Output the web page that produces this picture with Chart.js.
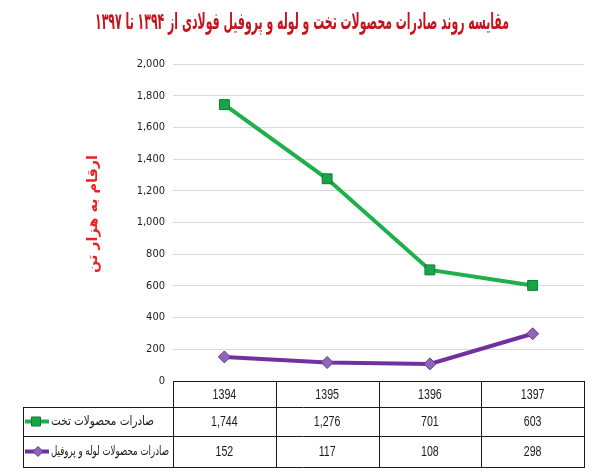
<!DOCTYPE html>
<html><head><meta charset="utf-8">
<script src="https://cdn.jsdelivr.net/npm/chart.js@4.4.0/dist/chart.umd.min.js"></script>
<style>html,body{margin:0;padding:0;background:#fff}#w{width:602px;height:475px}</style>
</head><body><div id="w"><canvas id="c"></canvas></div>
<script>
const titleText = 'مقایسه روند صادرات محصولات تخت و لوله و پروفیل فولادی از ۱۳۹۴ تا ۱۳۹۷';
const yTitle = 'ارقام به هزار تن';
const categories = ['1394', '1395', '1396', '1397'];
const seriesNames = ['صادرات محصولات تخت', 'صادرات محصولات لوله و پروفیل'];
const flatValues = [1744, 1276, 701, 603];
const pipeValues = [152, 117, 108, 298];
const yTicks = [0, 200, 400, 600, 800, 1000, 1200, 1400, 1600, 1800, 2000];

const NARROW = '"DejaVu Sans Condensed", "Liberation Sans Narrow", "Liberation Sans", sans-serif';
const NUM = '"Liberation Sans", Arial, sans-serif';
const AR = '"DejaVu Sans", sans-serif';

// draw text compressed horizontally to a target width
function drawFit(ctx, text, font, cx, cy, targetW, align) {
  ctx.font = font;
  const w = ctx.measureText(text).width;
  const sx = targetW ? targetW / w : 1;
  ctx.save();
  ctx.translate(cx, cy);
  ctx.scale(sx, 1);
  ctx.textAlign = align || 'center';
  ctx.fillText(text, 0, 0);
  ctx.restore();
}

const tablePlugin = {
  id: 'tablePlugin',
  afterDraw(chart) {
    const ctx = chart.ctx;
    const x = chart.scales.x;
    const ca = chart.chartArea;
    const L = ca.left, R = ca.right, T0 = ca.bottom;
    const r1 = 407, r2 = 436, r3 = 467;
    const legL = 23;
    ctx.save();
    ctx.textBaseline = 'middle';
    // title
    ctx.fillStyle = '#c3161c';
    ctx.direction = 'rtl';
    drawFit(ctx, titleText, 'bold 23px ' + AR, 302, 23, 414, 'center');
    // y title
    ctx.save();
    ctx.translate(93, 214);
    ctx.rotate(-Math.PI / 2);
    ctx.fillStyle = '#f01e1e';
    drawFit(ctx, yTitle, 'bold 14px ' + AR, 0, 0, 118, 'center');
    ctx.restore();
    // table lines
    ctx.strokeStyle = '#1a1a1a'; ctx.lineWidth = 1;
    ctx.beginPath();
    ctx.moveTo(L, T0 + 0.5); ctx.lineTo(R, T0 + 0.5);
    [r1, r2, r3].forEach(v => { ctx.moveTo(legL, v + 0.5); ctx.lineTo(R, v + 0.5); });
    ctx.moveTo(legL + 0.5, r1); ctx.lineTo(legL + 0.5, r3);
    const n = categories.length;
    const step = (R - L) / n;
    for (let i = 0; i <= n; i++) {
      const vx = Math.round(L + i * step) + 0.5;
      ctx.moveTo(vx, T0); ctx.lineTo(vx, r3 + 1);
    }
    ctx.stroke();
    // header and values
    ctx.direction = 'ltr';
    ctx.fillStyle = '#1a1a1a';
    const fmt = v => v.toLocaleString('en-US');
    const nf = '14px ' + NUM;
    categories.forEach((c, i) => {
      const cx = x.getPixelForValue(i);
      ctx.font = nf;
      const k = 0.76;
      [[c, (T0 + r1) / 2 + 1], [fmt(flatValues[i]), (r1 + r2) / 2 + 1], [fmt(pipeValues[i]), (r2 + r3) / 2 + 1]].forEach(p => {
        const w = ctx.measureText(p[0]).width;
        drawFit(ctx, p[0], nf, cx, p[1], w * k, 'center');
      });
    });
    // legend cells
    const ds = chart.data.datasets;
    [[r1, r2], [r2, r3]].forEach((rr, k) => {
      const cy = (rr[0] + rr[1]) / 2;
      const d = ds[k];
      ctx.strokeStyle = d.borderColor; ctx.lineWidth = 4;
      ctx.beginPath(); ctx.moveTo(25, cy); ctx.lineTo(49, cy); ctx.stroke();
      ctx.fillStyle = d.pointBackgroundColor; ctx.strokeStyle = d.pointBorderColor; ctx.lineWidth = 1;
      if (k === 0) {
        ctx.beginPath(); ctx.rect(31.5, cy - 4.5, 9, 9); ctx.fill(); ctx.stroke();
      } else {
        ctx.beginPath(); ctx.moveTo(38, cy - 5); ctx.lineTo(43, cy); ctx.lineTo(38, cy + 5); ctx.lineTo(33, cy); ctx.closePath(); ctx.fill(); ctx.stroke();
      }
      const txt = seriesNames[k];
      const target = k === 0 ? 103 : 118;
      ctx.fillStyle = '#1a1a1a';
      ctx.direction = 'rtl';
      drawFit(ctx, txt, '13px ' + AR, 51, cy, target, 'left');
    });
    ctx.restore();
  }
};

new Chart(document.getElementById('c'), {
  type: 'line',
  data: {
    labels: categories,
    datasets: [
      { label: seriesNames[0], data: flatValues, borderColor: '#1fb04c', borderWidth: 4,
        pointStyle: 'rect', pointRadius: 7, pointBackgroundColor: '#17a547', pointBorderColor: '#0b7d35', pointBorderWidth: 1, tension: 0 },
      { label: seriesNames[1], data: pipeValues, borderColor: '#7030a0', borderWidth: 4,
        pointStyle: 'rectRot', pointRadius: 6, pointBackgroundColor: '#8a68b6', pointBorderColor: '#7030a0', pointBorderWidth: 1, tension: 0 }
    ]
  },
  options: {
    responsive: true, maintainAspectRatio: false, animation: false,
    devicePixelRatio: 1,
    layout: { padding: { top: 64, left: 0, right: 18, bottom: 94 } },
    plugins: { legend: { display: false }, title: { display: false }, tooltip: { enabled: false } },
    scales: {
      x: {
        type: 'category', offset: true,
        grid: { display: false, drawTicks: false }, border: { display: false },
        ticks: { display: false },
        afterFit(s) { s.height = 0; }
      },
      y: {
        min: 0, max: 2000,
        afterBuildTicks(s) { s.ticks = yTicks.map(v => ({ value: v })); },
        grid: { color: '#d9d9d9', lineWidth: 1, drawTicks: false },
        border: { display: false },
        ticks: { padding: 8, color: '#222', font: { family: NARROW, size: 11 },
          callback: v => v.toLocaleString('en-US') },
        afterFit(s) { s.width = 173; }
      }
    }
  },
  plugins: [tablePlugin]
});
</script></body></html>
